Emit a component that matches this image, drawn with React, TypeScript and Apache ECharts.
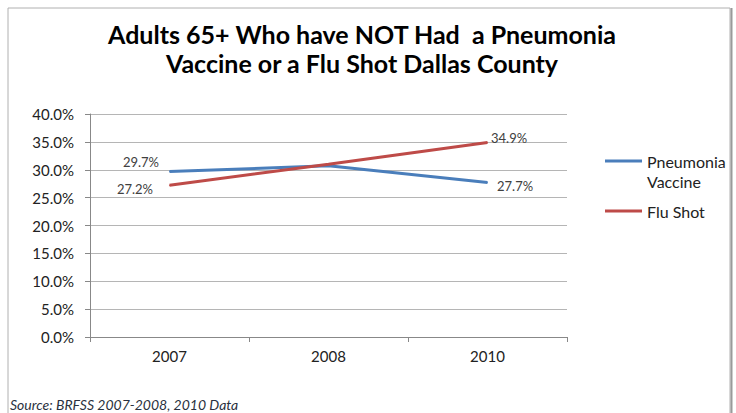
import React, { useEffect, useRef } from "react";
import * as echarts from "echarts";

const categories = ["2007", "2008", "2010"];
const pneumonia = [29.7, 30.7, 27.7];
const fluShot = [27.2, 31.0, 34.9];
const yTicks = { min: 0, max: 40, interval: 5 };
const titleText = "Adults 65+ Who have NOT Had  a Pneumonia\nVaccine or a Flu Shot Dallas County";
const sourceText = "Source: BRFSS 2007-2008, 2010 Data";

const FONT = "Lato, 'Open Sans', sans-serif";
const BLUE = "#4a7ebb";
const RED = "#be4b48";

export default function App() {
  const ref = useRef<HTMLDivElement>(null);
  useEffect(() => {
    if (!ref.current) return;
    const chart = echarts.init(ref.current, null, { renderer: "svg" });
    const pLabels: any[] = [
      { position: "left", distance: 10, offset: [0, -9] },
      null,
      { position: "right", distance: 9, offset: [0, 3] },
    ];
    const fLabels: any[] = [
      { position: "left", distance: 16, offset: [0, 4] },
      null,
      { position: "right", distance: 3, offset: [0, -4] },
    ];
    const mk = (vals: number[], labs: any[]) =>
      vals.map((v, i) => ({
        value: v,
        label: labs[i]
          ? { show: true, ...labs[i], formatter: (p: any) => p.value.toFixed(1) + "%", color: "#404040", fontSize: 13, fontFamily: FONT }
          : { show: false },
      }));
    chart.setOption({
      animation: false,
      backgroundColor: "#ffffff",
      title: {
        text: titleText,
        left: 362,
        textAlign: "center",
        top: 19,
        padding: 0,
        textStyle: { fontFamily: FONT, fontWeight: "bold", fontSize: 25, lineHeight: 29, color: "#000" },
      },
      graphic: [
        { type: "rect", shape: { x: 8, y: 8, width: 722, height: 420 }, style: { fill: "none", stroke: "#b0b0b0", lineWidth: 1 }, z: -1 },
        { type: "line", shape: { x1: 731.5, y1: 8, x2: 731.5, y2: 413 }, style: { stroke: "#9a9a9a", lineWidth: 2 } },
        { type: "text", x: 10, y: 397, style: { text: sourceText, fontFamily: FONT, fontStyle: "italic", fontSize: 14, fill: "#2a3140" } },
      ],
      legend: [
        {
          data: [{ name: "Pneumonia Vaccine", icon: "path://M0,0H37V3H0Z M0,22.9H0.01V23H0Z" }],
          orient: "vertical",
          left: 605,
          top: 151,
          padding: 0,
          itemWidth: 37,
          itemHeight: 23,
          itemGap: 4,
          formatter: () => "Pneumonia\nVaccine",
          textStyle: { fontFamily: FONT, fontSize: 16, lineHeight: 20, color: "#222" },
        },
        {
          data: [{ name: "Flu Shot", icon: "rect" }],
          orient: "vertical",
          left: 605,
          top: 201,
          padding: 0,
          itemWidth: 37,
          itemHeight: 3,
          textStyle: { fontFamily: FONT, fontSize: 16, lineHeight: 20, color: "#222" },
        },
      ],
      grid: { left: 90, right: 169, top: 114, bottom: 76, containLabel: false },
      xAxis: {
        type: "category",
        data: categories,
        boundaryGap: true,
        axisLine: { lineStyle: { color: "#888", width: 1 } },
        axisTick: { show: true, alignWithLabel: false, length: 5, lineStyle: { color: "#888" } },
        axisLabel: { fontFamily: FONT, fontSize: 15, color: "#222", margin: 11 },
      },
      yAxis: {
        type: "value",
        min: yTicks.min,
        max: yTicks.max,
        interval: yTicks.interval,
        axisLine: { show: true, lineStyle: { color: "#888" } },
        axisTick: { show: true, length: 5, inside: false, lineStyle: { color: "#888" } },
        splitLine: { lineStyle: { color: "#b5b5b5", width: 1 } },
        axisLabel: { fontFamily: FONT, fontSize: 15, color: "#222", margin: 16, formatter: (v: number) => v.toFixed(1) + "%" },
      },
      series: [
        {
          name: "Pneumonia Vaccine",
          type: "line",
          data: mk(pneumonia, pLabels),
          symbol: "circle",
          symbolSize: 1,
          showSymbol: true,
          lineStyle: { color: BLUE, width: 3 },
          itemStyle: { color: BLUE },
          z: 3,
        },
        {
          name: "Flu Shot",
          type: "line",
          data: mk(fluShot, fLabels),
          symbol: "circle",
          symbolSize: 1,
          showSymbol: true,
          lineStyle: { color: RED, width: 3 },
          itemStyle: { color: RED },
          z: 4,
        },
      ],
    });
    return () => chart.dispose();
  }, []);
  return <div ref={ref} style={{ position: "absolute", left: 0, top: 0, width: 736, height: 413 }} />;
}
